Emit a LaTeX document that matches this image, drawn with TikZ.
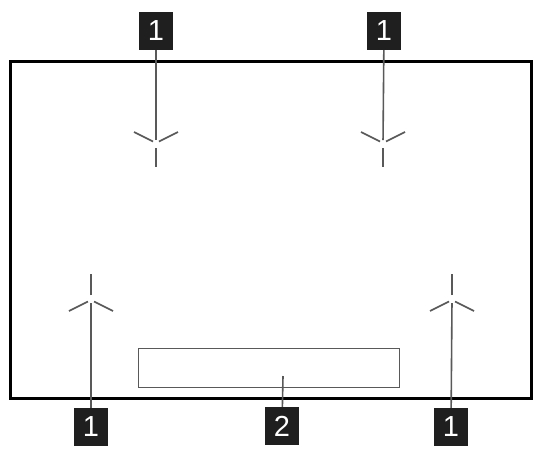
\documentclass[tikz,border=0pt]{standalone}
\usepackage{fontspec}
\setsansfont{Liberation Sans}

\begin{document}
\begin{tikzpicture}[x=1pt, y=-1pt,
	callout/.style={fill=black!88, text=white, inner sep=0pt,
		minimum width=34pt, minimum height=38pt,
		font=\fontsize{29}{29}\selectfont\sffamily},
	leader/.style={draw=black!65, line width=1.6pt},
	arm/.style={draw=black!65, line width=1.7pt}]
	\useasboundingbox (0,0) rectangle (537,451);
	% frame and display
	\draw[line width=3pt] (10,61) rectangle (531,398);
	\node[draw=black!65, line width=1.8pt, inner sep=0pt,
		minimum width=261pt, minimum height=39pt] (display) at (269,368) {};
	\coordinate (d) at (283,376);
	% sensor points
	\coordinate (c1) at (156,143);
	\coordinate (c2) at (383,143);
	\coordinate (c3) at (91,300);
	\coordinate (c4) at (452,300);
	% callouts
	\node[callout] (t1) at (156,31) {1};
	\node[callout] (t2) at (384,31) {1};
	\node[callout] (b1) at (91,427) {1};
	\node[callout] (b2) at (451,427) {1};
	\node[callout] (b3) at (282,426) {2};
	% leaders
	\begin{scope}[shorten >=3pt]
		\draw[leader] (t1) -- (c1);
		\draw[leader] (t2) -- (c2);
		\draw[leader] (b1) -- (c3);
		\draw[leader] (b2) -- (c4);
	\end{scope}
	\draw[leader] (b3) -- (d);
	% upper marks
	\foreach \c in {c1,c2} {
		\draw[arm] (\c) ++(-3,-1.5) -- ++(-19,-9.5);
		\draw[arm] (\c) ++(3,-1.5) -- ++(19,-9.5);
		\draw[arm] (\c) ++(0,5) -- ++(0,19);
	}
	% lower marks
	\foreach \c in {c3,c4} {
		\draw[arm] (\c) ++(-3,1.5) -- ++(-19,9.5);
		\draw[arm] (\c) ++(3,1.5) -- ++(19,9.5);
		\draw[arm] (\c) ++(0,-5) -- ++(0,-21);
	}
\end{tikzpicture}
\end{document}
